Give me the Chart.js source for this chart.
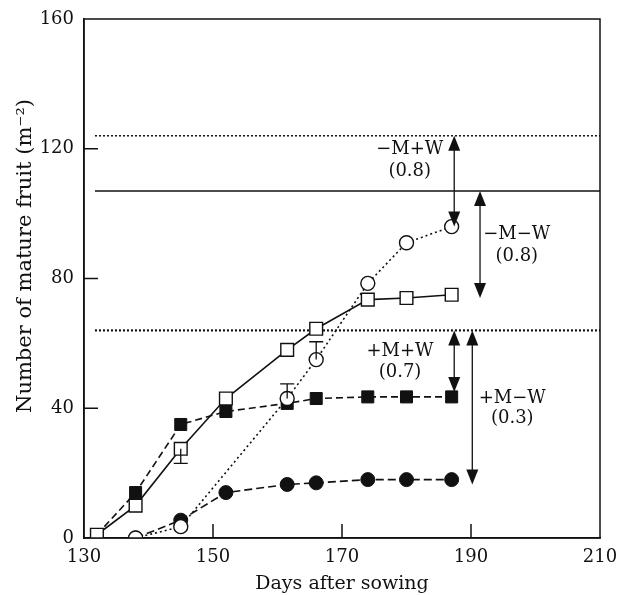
<!DOCTYPE html>
<html lang="en">
<head>
<meta charset="UTF-8" />
<title>Mature fruit</title>
<script src="https://cdn.jsdelivr.net/npm/chart.js"></script>
<style>
  html, body { margin: 0; padding: 0; background: #fff; }
  #wrap { width: 619px; height: 595px; }
</style>
</head>
<body>
<div id="wrap"><canvas id="fruitChart" width="619" height="595"></canvas></div>
<script>
// data
const days = [132, 138, 145, 152, 161.5, 166, 174, 180, 187];
const openSquare = [1, 10, 27.5, 43, 58, 64.5, 73.5, 74, 75];     // -M-W
const filledSquare = [1, 14, 35, 39, 41.5, 43, 43.5, 43.5, 43.5]; // +M+W
const openCircleDays = [138, 145, 161.5, 166, 174, 180, 187];
const openCircle = [0, 3.5, 43, 55, 78.5, 91, 96];                // -M+W
const filledCircleDays = [138, 145, 152, 161.5, 166, 174, 180, 187];
const filledCircle = [0, 5.5, 14, 16.5, 17, 18, 18, 18];          // +M-W

// error bars: day, from, to
const errDays = [145, 161.5, 166];
const errFrom = [27.5, 43, 55];
const errTo = [23, 47.5, 60.5];

// reference levels (dotted / solid / dotted)
const refLevels = [124, 107, 64];
const refStart = 131.7;

// double arrows
const arrowDays = [187.4, 191.4, 187.4, 190.2];
const arrowTop = [124, 107, 64, 64];
const arrowBottom = [96, 74, 45, 16.5];

// annotation labels
const labelText = ['\u2212M+W', '(0.8)', '\u2212M\u2212W', '(0.8)', '+M+W', '(0.7)', '+M\u2212W', '(0.3)'];
const labelDays = [180.5, 180.5, 197.1, 197.1, 179, 179, 196.4, 196.4];
const labelVals = [119.7, 113, 93.5, 86.7, 57.4, 51.2, 43.2, 37];

const yTitle = 'Number of mature fruit (m\u207B\u00B2)';
const serif = "'DejaVu Serif', 'Liberation Serif', serif";

function pts(xs, ys) { return xs.map((x, i) => ({ x: x, y: ys[i] })); }

const refSets = refLevels.map((v, i) => ({
  data: [{ x: refStart, y: v }, { x: 210, y: v }],
  showLine: true,
  borderColor: '#111',
  borderWidth: i === 2 ? 2.2 : 1.5,
  borderDash: i === 1 ? [] : [2, 2],
  pointRadius: 0,
  order: 10
}));

const extras = {
  id: 'extras',
  afterDatasetsDraw(chart) {
    const ctx = chart.ctx;
    const xs = chart.scales.x, ys = chart.scales.y;
    const a = chart.chartArea;
    ctx.save();
    ctx.strokeStyle = '#111';
    ctx.fillStyle = '#111';
    ctx.lineWidth = 1.5;
    // frame
    ctx.strokeRect(a.left, a.top, a.right - a.left, a.bottom - a.top);
    // inward ticks
    ys.ticks.forEach(t => {
      if (t.value <= 0 || t.value >= 160) return;
      const y = ys.getPixelForValue(t.value);
      ctx.beginPath(); ctx.moveTo(a.left, y); ctx.lineTo(a.left + 14, y); ctx.stroke();
    });
    xs.ticks.forEach(t => {
      if (t.value <= 130 || t.value >= 210) return;
      const x = xs.getPixelForValue(t.value);
      ctx.beginPath(); ctx.moveTo(x, a.bottom); ctx.lineTo(x, a.bottom - 14); ctx.stroke();
    });
    // error bars
    ctx.lineWidth = 1.3;
    errDays.forEach((d, i) => {
      const x = xs.getPixelForValue(d);
      const y1 = ys.getPixelForValue(errFrom[i]), y2 = ys.getPixelForValue(errTo[i]);
      ctx.beginPath();
      ctx.moveTo(x, y1); ctx.lineTo(x, y2);
      ctx.moveTo(x - 7, y2); ctx.lineTo(x + 7, y2);
      ctx.stroke();
    });
    // double arrows
    arrowDays.forEach((d, i) => {
      const x = xs.getPixelForValue(d);
      const yt = ys.getPixelForValue(arrowTop[i]), yb = ys.getPixelForValue(arrowBottom[i]);
      ctx.lineWidth = 1.3;
      ctx.beginPath(); ctx.moveTo(x, yt + 10); ctx.lineTo(x, yb - 10); ctx.stroke();
      ctx.beginPath();
      ctx.moveTo(x, yt); ctx.lineTo(x - 6, yt + 15); ctx.lineTo(x + 6, yt + 15); ctx.closePath();
      ctx.fill();
      ctx.beginPath();
      ctx.moveTo(x, yb); ctx.lineTo(x - 6, yb - 15); ctx.lineTo(x + 6, yb - 15); ctx.closePath();
      ctx.fill();
    });
    // labels
    ctx.font = '18px ' + serif;
    ctx.textAlign = 'center';
    ctx.textBaseline = 'middle';
    labelText.forEach((s, i) => {
      ctx.fillText(s, xs.getPixelForValue(labelDays[i]), ys.getPixelForValue(labelVals[i]));
    });
    // y axis title (sits a little above the plot centre in the figure)
    ctx.translate(26, 256);
    ctx.rotate(-Math.PI / 2);
    ctx.font = '21px ' + serif;
    ctx.fillText(yTitle, 0, 0);
    ctx.restore();
  }
};

new Chart(document.getElementById('fruitChart').getContext('2d'), {
  type: 'scatter',
  data: {
    datasets: [
      {
        data: pts(openCircleDays, openCircle), showLine: true,
        borderColor: '#111', borderWidth: 1.6, borderDash: [2, 3],
        pointStyle: 'circle', pointRadius: 7, pointBackgroundColor: '#fff',
        pointBorderColor: '#111', pointBorderWidth: 1.4, order: 1
      },
      {
        data: pts(days, openSquare), showLine: true,
        borderColor: '#111', borderWidth: 1.6,
        pointStyle: 'rect', pointRadius: 9, pointBackgroundColor: '#fff',
        pointBorderColor: '#111', pointBorderWidth: 1.4, order: 2
      },
      {
        data: pts(days, filledSquare), showLine: true,
        borderColor: '#111', borderWidth: 1.6, borderDash: [7, 4],
        pointStyle: 'rect', pointRadius: 8.5, pointBackgroundColor: '#111',
        pointBorderColor: '#111', pointBorderWidth: 1, order: 3
      },
      {
        data: pts(filledCircleDays, filledCircle), showLine: true,
        borderColor: '#111', borderWidth: 1.6, borderDash: [8, 4],
        pointStyle: 'circle', pointRadius: 7, pointBackgroundColor: '#111',
        pointBorderColor: '#111', pointBorderWidth: 1, order: 4
      },
      ...refSets
    ]
  },
  options: {
    responsive: false,
    animation: false,
    layout: { padding: { top: 19, right: 19, left: 0, bottom: 0 } },
    plugins: { legend: { display: false }, tooltip: { enabled: false } },
    scales: {
      x: {
        type: 'linear', min: 130, max: 210,
        afterFit: s => { s.height = 57; s.paddingLeft = 0; s.paddingRight = 0; },
        grid: { display: false, drawTicks: false },
        border: { display: true, color: '#111', width: 1.5 },
        ticks: { stepSize: 20, padding: 9, color: '#111', font: { family: serif, size: 18 } },
        title: { display: true, text: 'Days after sowing', color: '#111',
                 font: { family: serif, size: 19 }, padding: { top: 0, bottom: 0 } }
      },
      y: {
        min: 0, max: 160,
        afterFit: s => { s.width = 84; s.paddingTop = 0; s.paddingBottom = 0; },
        grid: { display: false, drawTicks: false },
        border: { display: true, color: '#111', width: 1.5 },
        ticks: { stepSize: 40, padding: 10, color: '#111', font: { family: serif, size: 18 } },
        title: { display: false }
      }
    }
  },
  plugins: [extras]
});
</script>
</body>
</html>
